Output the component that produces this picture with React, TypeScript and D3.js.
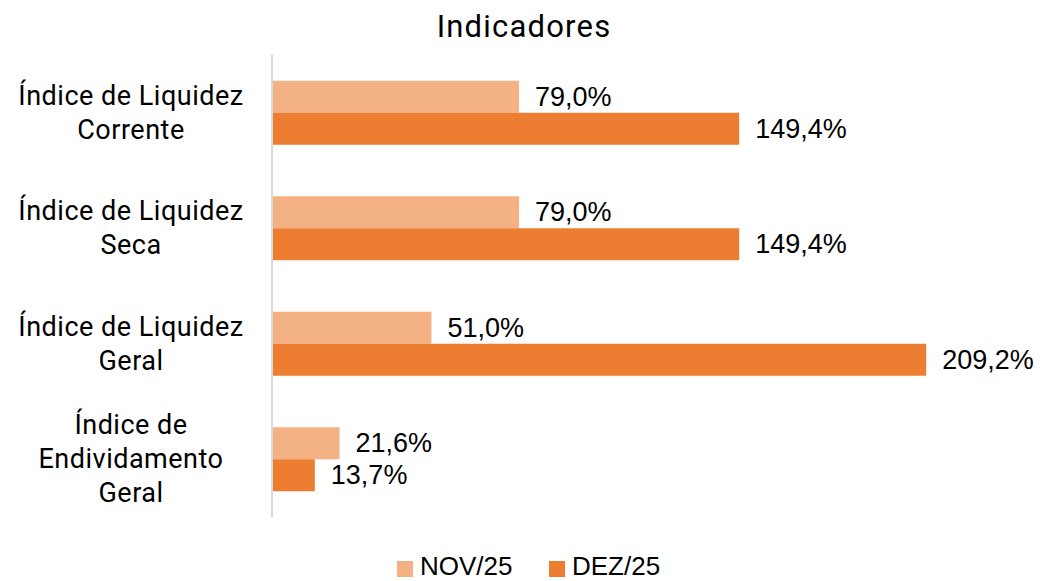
import React, { useEffect, useRef } from 'react'
import * as d3 from 'd3'

const categories = [
  ['Índice de Liquidez', 'Corrente'],
  ['Índice de Liquidez', 'Seca'],
  ['Índice de Liquidez', 'Geral'],
  ['Índice de', 'Endividamento', 'Geral'],
]
const seriesNames = ['NOV/25', 'DEZ/25']
const novValues = [79.0, 79.0, 51.0, 21.6]
const dezValues = [149.4, 149.4, 209.2, 13.7]
const colors = ['#F4B183', '#ED7D31']

const fmt = (v: number) => v.toFixed(1).replace('.', ',') + '%'

export default function App() {
  const ref = useRef<SVGSVGElement>(null)

  useEffect(() => {
    const svg = d3.select(ref.current)
    svg.selectAll('*').remove()

    const left = 272
    const top = 55
    const bottom = 517
    const labelFont = 'Roboto, sans-serif'
    const valueFont = 'Liberation Sans, Arial, sans-serif'

    // x scale: 209.2% maps to ~654px
    const x = d3.scaleLinear().domain([0, 100]).range([left, left + 312.7])
    const y = d3.scaleBand().domain(categories.map((_, i) => String(i))).range([top, bottom])
    const inner = d3.scaleBand().domain(seriesNames).range([0, 64])
    const offset = (y.bandwidth() - 64) / 2

    svg.append('text')
      .attr('x', 524).attr('y', 26)
      .attr('text-anchor', 'middle').attr('dominant-baseline', 'central')
      .style('font-family', labelFont).style('font-size', '31px')
      .style('letter-spacing', '1.2px').style('fill', '#000')
      .text('Indicadores')

    const groups = svg.selectAll('g.grp')
      .data(categories)
      .enter().append('g')
      .attr('class', 'grp')
      .attr('transform', (_, i) => 'translate(0,' + (y(String(i)) as number) + ')')

    const series = [novValues, dezValues]
    series.forEach(function (vals, s) {
      groups.append('rect')
        .attr('x', left)
        .attr('y', offset + (inner(seriesNames[s]) as number))
        .attr('width', (_, i) => x(vals[i]) - left)
        .attr('height', inner.bandwidth())
        .style('fill', colors[s])

      groups.append('text')
        .attr('x', (_, i) => x(vals[i]) + 16)
        .attr('y', offset + (inner(seriesNames[s]) as number) + inner.bandwidth() / 2)
        .attr('dominant-baseline', 'central')
        .style('font-family', valueFont).style('font-size', '27px').style('fill', '#000')
        .text((_, i) => fmt(vals[i]))
    })

    // category labels
    groups.each(function (lines) {
      const g = d3.select(this)
      const lh = 34
      const mid = y.bandwidth() / 2
      lines.forEach(function (line, k) {
        g.append('text')
          .attr('x', 131)
          .attr('y', mid + (k - (lines.length - 1) / 2) * lh)
          .attr('text-anchor', 'middle').attr('dominant-baseline', 'central')
          .style('font-family', labelFont).style('font-size', '27px')
          .style('letter-spacing', '0.5px').style('fill', '#000')
          .text(line)
      })
    })

    svg.append('line')
      .attr('x1', left).attr('x2', left).attr('y1', top).attr('y2', bottom)
      .style('stroke', '#d9d9d9').style('stroke-width', 2)

    // legend
    const legX = [397, 549]
    seriesNames.forEach(function (name, s) {
      svg.append('rect')
        .attr('x', legX[s]).attr('y', 561).attr('width', 16).attr('height', 16)
        .style('fill', colors[s])
      svg.append('text')
        .attr('x', legX[s] + 23).attr('y', 566)
        .attr('dominant-baseline', 'central')
        .style('font-family', valueFont).style('font-size', '26px').style('fill', '#000')
        .text(name)
    })
  }, [])

  return (
    <svg ref={ref} width={1043} height={581}
      style={{ position: 'absolute', left: 0, top: 0, background: '#fff' }} />
  )
}
